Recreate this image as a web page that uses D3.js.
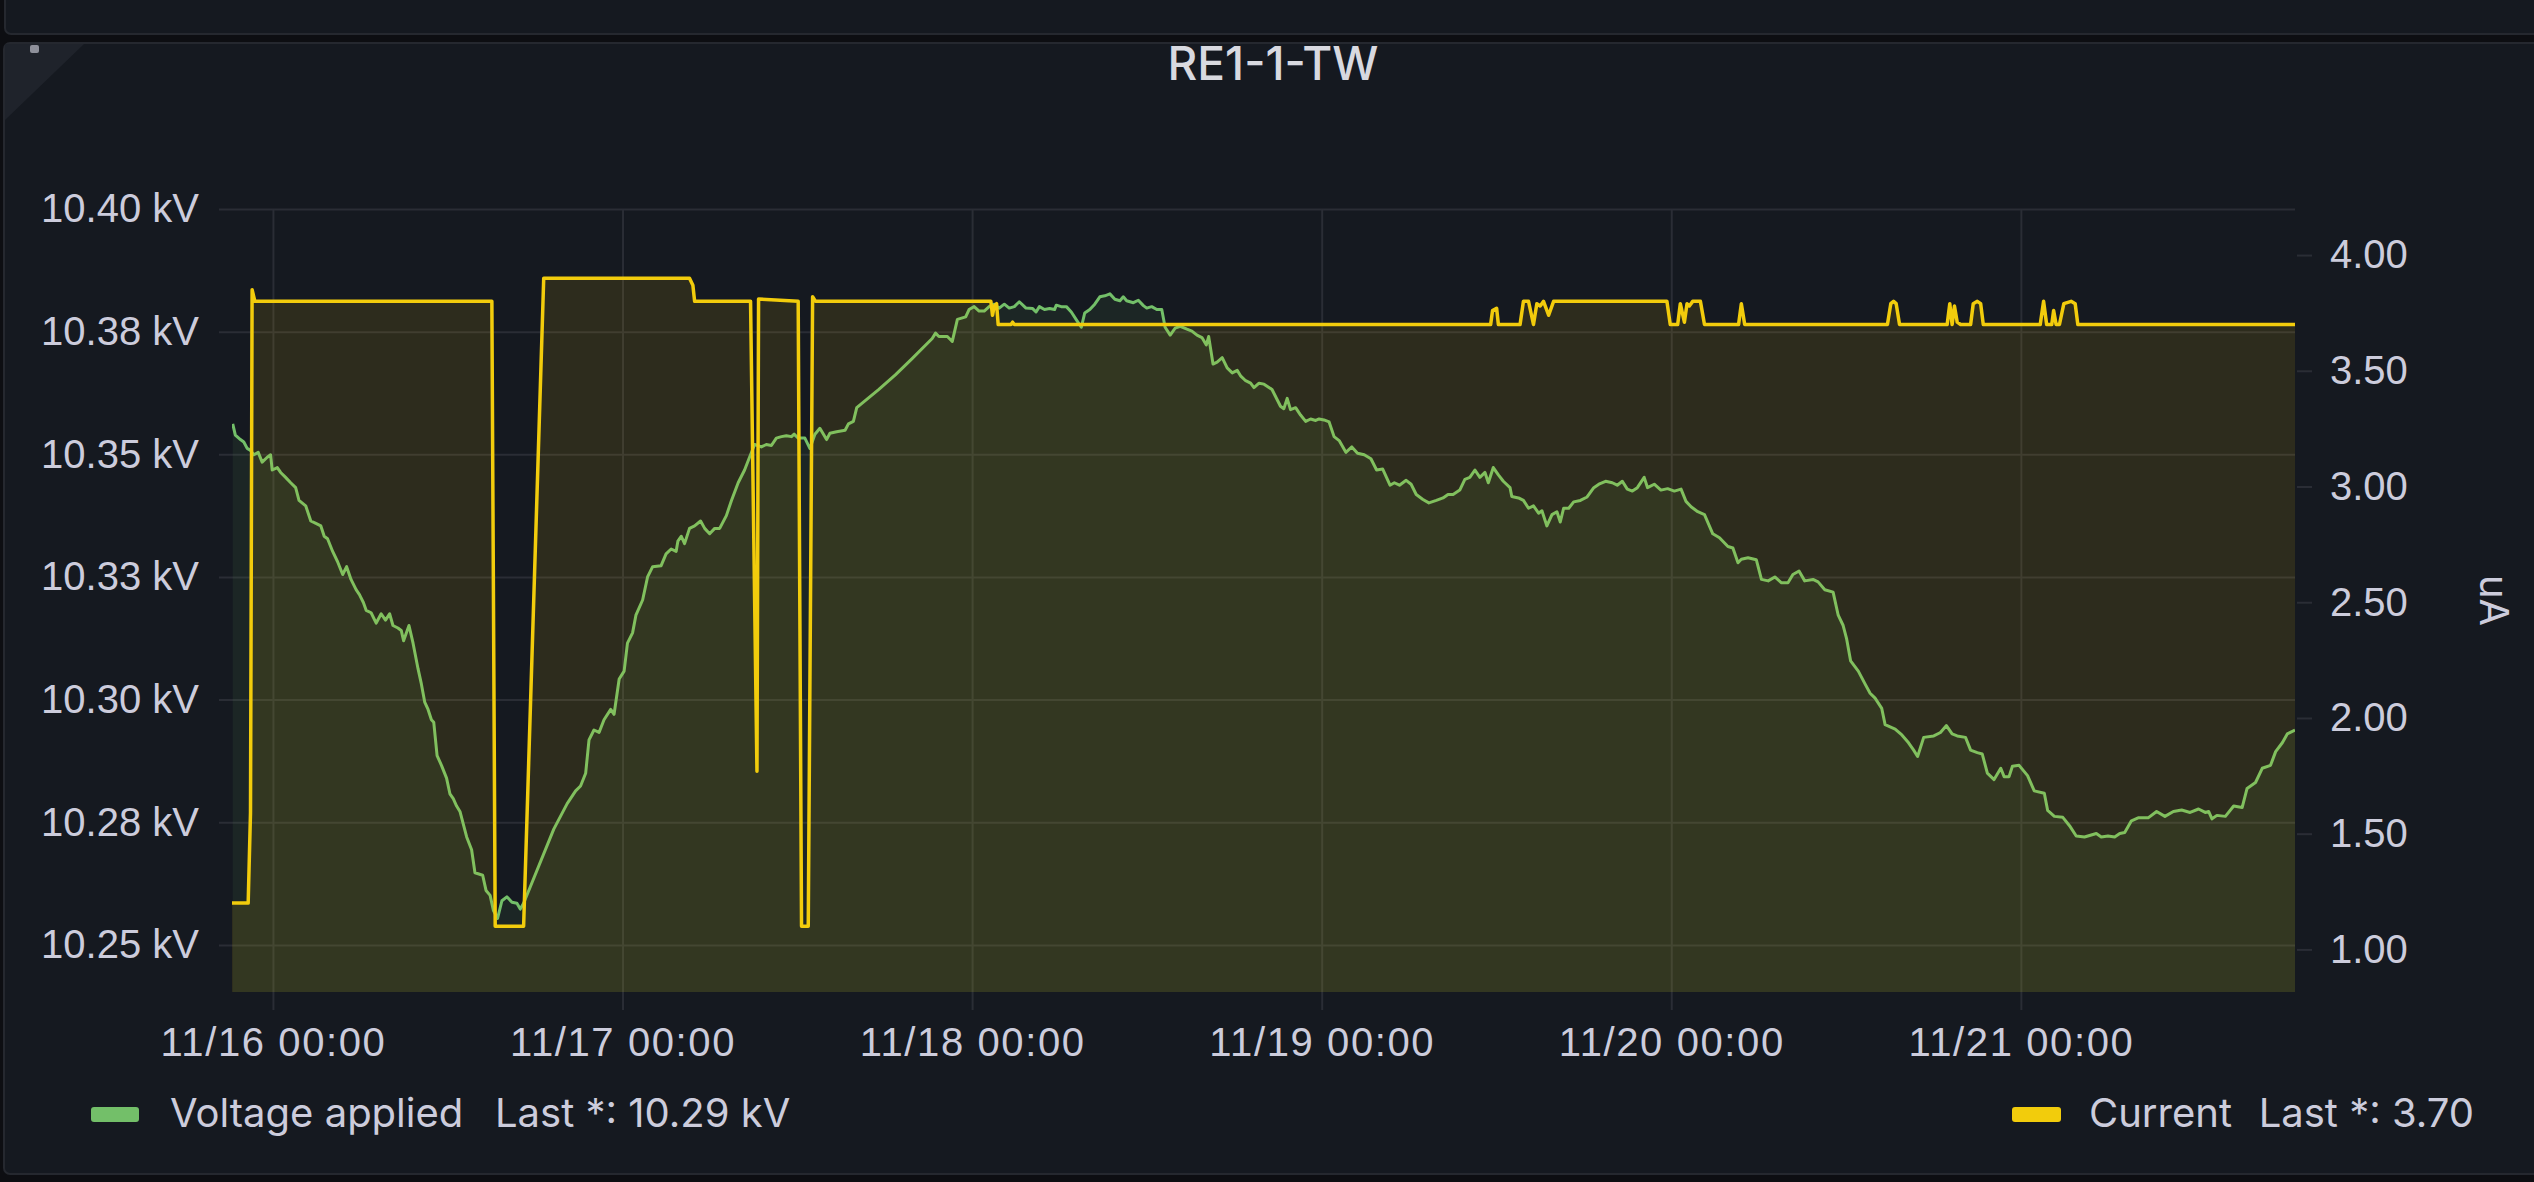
<!DOCTYPE html>
<html>
<head>
<meta charset="utf-8">
<script src="https://cdn.jsdelivr.net/npm/d3@7"></script>
<style>
  body { margin: 0; background: #0d0e12; }
  svg { display: block; font-family: Inter, "Noto Sans", sans-serif; }
  .axis text { fill: #ccccdc; font-size: 40px; }
  .axis .domain { display: none; }
  .axis line { stroke: #2a2d35; stroke-width: 2; }
  .x-axis text { letter-spacing: 1.6px; }
  .legend text { fill: #ccccdc; font-size: 40px; }
</style>
</head>
<body>
<script>
// hours from 11/16 00:00
const voltHours = [
  -2.76, -2.58, -2.23, -2.00, -1.77, -1.54, -1.31, -1.01, -0.74, -0.39, -0.16, -0.05, 0.30, 0.53, 0.87,
  1.22, 1.56, 1.79, 2.25, 2.60, 2.95, 3.29, 3.52, 3.75, 4.10, 4.44, 4.79, 5.06, 5.36, 5.71, 5.94, 6.21,
  6.40, 6.74, 7.09, 7.43, 7.73, 8.01, 8.24, 8.58, 8.81, 8.97, 9.34, 9.62, 9.96, 10.19, 10.42, 10.65,
  10.88, 11.04, 11.27, 11.57, 11.92, 12.15, 12.38, 12.61, 12.84, 13.07, 13.30, 13.64, 13.87, 14.40,
  14.63, 14.91, 15.14, 15.42, 15.72, 16.06, 16.41, 16.75, 16.98, 17.21, 19.28, 19.74, 20.20, 20.78,
  21.12, 21.47, 21.70, 22.04, 22.39, 22.73, 23.19, 23.42, 23.77, 24.11, 24.34, 24.69, 24.92, 25.38,
  25.72, 26.07, 26.65, 26.99, 27.34, 27.68, 27.80, 28.03, 28.26, 28.60, 28.95, 29.36, 29.64, 29.98,
  30.33, 30.67, 31.13, 31.48, 31.94,
  32.38, 32.72, 33.07, 33.53, 33.87, 34.22, 34.56, 34.91, 35.25, 35.60, 35.78, 36.06, 36.52, 36.86,
  37.21, 37.55, 38.01, 38.24, 38.70, 39.28, 39.51, 39.85, 40.08, 41.58, 42.73, 43.88, 45.26, 45.49,
  45.72, 46.30, 46.64, 46.99, 47.56, 47.79, 48.14, 48.48, 48.83, 49.17, 49.52, 49.86, 50.21, 50.55,
  50.90, 51.24, 51.70, 52.16, 52.39, 52.62, 52.97, 53.32, 53.66, 53.78, 54.12, 54.47, 54.81, 55.16,
  55.50, 55.73, 56.08, 56.42, 56.77, 57.11, 57.46, 57.80, 58.15, 58.38, 58.61, 59.07, 59.41, 59.76,
  59.99, 60.33, 60.68, 61.02, 61.25, 61.60, 61.94, 62.29, 62.75, 63.09, 63.44, 63.78, 64.08, 64.24,
  64.54, 64.82, 65.17, 65.51, 65.86, 66.20, 66.43, 66.78, 67.12, 67.35, 67.70, 68.04,
  68.59, 69.17, 69.40, 69.63, 69.86, 70.21, 70.55, 70.90, 71.24, 71.59, 71.82, 72.16, 72.51, 72.85,
  73.20, 73.66, 74.07, 74.46, 74.92, 75.38, 75.77, 76.19, 76.69, 76.99, 77.34, 77.80, 78.14, 78.49,
  78.95, 79.36, 79.87, 80.33, 80.67, 81.02, 81.48, 81.83, 82.17, 82.52, 82.86, 83.21, 83.44, 83.78,
  84.13, 84.47, 84.93, 85.05, 85.51, 85.85, 86.20, 86.54, 86.89, 87.12, 87.46, 87.81, 88.15, 88.38,
  88.61, 88.96, 89.30, 89.76, 90.22, 90.68, 91.03, 91.49, 91.95, 92.29, 92.64, 92.98, 93.33, 93.67,
  94.14, 94.37, 94.83, 95.29, 95.75, 96.21, 96.67, 97.01, 97.36, 97.82, 98.28, 98.85, 99.31, 99.89,
  100.23, 100.58, 100.81, 101.27, 101.84, 102.19, 102.65, 103.11, 103.57,
  104.01, 104.35, 104.77, 105.16, 105.73, 106.08, 106.54, 107.11, 107.46, 107.80, 108.03, 108.31,
  108.84, 109.30, 109.65, 109.99, 110.45, 110.68, 111.37, 111.83, 112.29, 112.64, 112.91, 113.33,
  114.02, 114.48, 114.89, 115.28, 115.63, 116.20, 116.55, 117.01, 117.35, 117.70, 118.16, 118.62,
  118.85, 119.19, 119.42, 119.88, 120.46, 120.92, 121.61, 121.84, 122.30, 122.88, 123.34, 123.80,
  124.37, 125.18, 125.52, 125.98, 126.44, 126.79, 127.13, 127.59, 128.05, 128.74, 129.32, 129.89,
  130.47, 131.04, 131.62, 132.20, 132.66, 132.89, 133.12, 133.46, 134.04, 134.61, 135.19, 135.53,
  136.11, 136.57, 137.14, 137.49, 137.95, 138.29, 138.82
];
const voltKV = [
  10.3562, 10.3539, 10.3530, 10.3525, 10.3512, 10.3508, 10.3499, 10.3504, 10.3484, 10.3494, 10.3499,
  10.3468, 10.3473, 10.3463, 10.3453, 10.3442, 10.3432, 10.3406, 10.3395, 10.3364, 10.3359, 10.3354,
  10.3333, 10.3328, 10.3302, 10.3281, 10.3255, 10.3271, 10.3245, 10.3224, 10.3214, 10.3198, 10.3182,
  10.3177, 10.3156, 10.3175, 10.3162, 10.3175, 10.3151, 10.3146, 10.3141, 10.3120, 10.3151, 10.3115,
  10.3063, 10.3032, 10.2995, 10.2980, 10.2959, 10.2954, 10.2886, 10.2866, 10.2840, 10.2808, 10.2798,
  10.2783, 10.2772, 10.2746, 10.2720, 10.2694, 10.2647, 10.2642, 10.2611, 10.2601, 10.2570, 10.2554,
  10.2590, 10.2598, 10.2587, 10.2585, 10.2573, 10.2585, 10.2736, 10.2762, 10.2788, 10.2814, 10.2824,
  10.2850, 10.2918, 10.2938, 10.2933, 10.2959, 10.2980, 10.2970, 10.3042, 10.3058, 10.3115, 10.3136,
  10.3172, 10.3203, 10.3250, 10.3271, 10.3273, 10.3297, 10.3307, 10.3302, 10.3323, 10.3333, 10.3318,
  10.3349, 10.3354, 10.3364, 10.3349, 10.3338, 10.3349, 10.3349, 10.3375, 10.3406, 10.3442,
  10.3468, 10.3494, 10.3520, 10.3515, 10.3520, 10.3518, 10.3533, 10.3536, 10.3538, 10.3536, 10.3541,
  10.3533, 10.3533, 10.3512, 10.3541, 10.3553, 10.3530, 10.3543, 10.3546, 10.3549, 10.3562, 10.3567,
  10.3595, 10.3632, 10.3662, 10.3695, 10.3736, 10.3747, 10.3740, 10.3740, 10.3730, 10.3775, 10.3780,
  10.3795, 10.3801, 10.3792, 10.3792, 10.3801, 10.3806, 10.3798, 10.3806, 10.3798, 10.3801, 10.3811,
  10.3798, 10.3797, 10.3790, 10.3801, 10.3795, 10.3797, 10.3795, 10.3804, 10.3801, 10.3801, 10.3790,
  10.3774, 10.3759, 10.3788, 10.3795, 10.3806, 10.3821, 10.3823, 10.3827, 10.3816, 10.3813, 10.3821,
  10.3813, 10.3809, 10.3814, 10.3803, 10.3798, 10.3801, 10.3795, 10.3795, 10.3759, 10.3743, 10.3757,
  10.3761, 10.3755, 10.3751, 10.3743, 10.3738, 10.3723, 10.3740, 10.3684, 10.3688, 10.3697, 10.3676,
  10.3666, 10.3671, 10.3660, 10.3650, 10.3645, 10.3636, 10.3645, 10.3643,
  10.3632, 10.3598, 10.3593, 10.3614, 10.3591, 10.3595, 10.3580, 10.3567, 10.3572, 10.3569, 10.3572,
  10.3570, 10.3566, 10.3536, 10.3528, 10.3504, 10.3515, 10.3502, 10.3499, 10.3491, 10.3468, 10.3470,
  10.3437, 10.3442, 10.3437, 10.3447, 10.3439, 10.3418, 10.3408, 10.3401, 10.3406, 10.3411, 10.3418,
  10.3418, 10.3427, 10.3449, 10.3453, 10.3468, 10.3453, 10.3463, 10.3442, 10.3473, 10.3458, 10.3445,
  10.3432, 10.3414, 10.3411, 10.3406, 10.3390, 10.3395, 10.3380, 10.3385, 10.3354, 10.3377, 10.3383,
  10.3362, 10.3390, 10.3390, 10.3403, 10.3406, 10.3413, 10.3432, 10.3439, 10.3445, 10.3442, 10.3437,
  10.3445, 10.3429, 10.3425, 10.3432, 10.3453, 10.3432, 10.3439, 10.3427, 10.3430, 10.3425, 10.3429,
  10.3404, 10.3393, 10.3383, 10.3377, 10.3338, 10.3330, 10.3312, 10.3309, 10.3279, 10.3286, 10.3289,
  10.3285, 10.3245, 10.3242, 10.3250, 10.3238,
  10.3238, 10.3255, 10.3262, 10.3242, 10.3245, 10.3240, 10.3224, 10.3219, 10.3172, 10.3151, 10.3125,
  10.3079, 10.3058, 10.3032, 10.3013, 10.3003, 10.2982, 10.2949, 10.2940, 10.2928, 10.2912, 10.2897,
  10.2884, 10.2923, 10.2926, 10.2933, 10.2947, 10.2930, 10.2926, 10.2923, 10.2897, 10.2892, 10.2889,
  10.2850, 10.2837, 10.2860, 10.2843, 10.2843, 10.2864, 10.2866, 10.2845, 10.2814, 10.2809, 10.2774,
  10.2762, 10.2760, 10.2743, 10.2722, 10.2720, 10.2727, 10.2720, 10.2722, 10.2720, 10.2727, 10.2729,
  10.2753, 10.2759, 10.2759, 10.2772, 10.2762, 10.2772, 10.2775, 10.2770, 10.2777, 10.2770, 10.2772,
  10.2757, 10.2764, 10.2762, 10.2783, 10.2780, 10.2819, 10.2831, 10.2860, 10.2866, 10.2894, 10.2912,
  10.2930, 10.2938
];

const currHours = [
  -2.81, -1.70, -1.54, -1.43, -1.24, 15.03, 15.26, 17.21, 18.59, 28.60, 28.83, 28.95, 32.79, 33.23,
  33.34, 36.06, 36.29, 36.75, 37.05, 37.25, 49.29, 49.40, 49.52, 49.68, 49.79, 50.67, 50.78, 50.90,
  83.60, 83.73, 84.01, 84.13, 85.62, 85.85, 86.20, 86.54, 86.77, 87.00, 87.23, 87.58, 87.92, 95.70,
  95.93, 96.44, 96.62, 96.90, 97.08, 97.24, 97.47, 98.00, 98.28, 100.62, 100.81, 101.04, 110.84,
  111.07, 111.26, 111.44, 111.67, 114.94, 115.12, 115.28, 115.44, 115.63, 115.86, 116.55, 116.73,
  117.01, 117.24, 117.42, 121.33, 121.56, 121.77, 122.12, 122.25, 122.42, 122.65, 122.95, 123.45,
  123.73, 123.91, 138.82
];
const currUA = [
  1.20, 1.20, 1.59, 3.85, 3.80, 3.80, 1.10, 1.10, 3.90, 3.90, 3.87, 3.80, 3.80, 1.77,
  3.81, 3.80, 1.10, 1.10, 3.82, 3.80, 3.80, 3.74, 3.78, 3.79, 3.70, 3.70, 3.71, 3.70,
  3.70, 3.76, 3.77, 3.70, 3.70, 3.80, 3.80, 3.70, 3.79, 3.78, 3.80, 3.74, 3.80, 3.80,
  3.70, 3.70, 3.79, 3.71, 3.79, 3.78, 3.80, 3.80, 3.70, 3.70, 3.79, 3.70, 3.70,
  3.79, 3.80, 3.79, 3.70, 3.70, 3.79, 3.70, 3.78, 3.71, 3.70, 3.70, 3.79,
  3.80, 3.79, 3.70, 3.70, 3.80, 3.70, 3.70, 3.76, 3.70, 3.70, 3.79, 3.80,
  3.79, 3.70, 3.70
];

// axis ticks
const dayTicks = ["2023-11-16", "2023-11-17", "2023-11-18", "2023-11-19", "2023-11-20", "2023-11-21"];
const leftTicks = [10.25, 10.275, 10.30, 10.325, 10.35, 10.375, 10.40];
const leftLabels = ["10.25 kV", "10.28 kV", "10.30 kV", "10.33 kV", "10.35 kV", "10.38 kV", "10.40 kV"];
const rightTicks = [1.0, 1.5, 2.0, 2.5, 3.0, 3.5, 4.0];
const rightLabels = ["1.00", "1.50", "2.00", "2.50", "3.00", "3.50", "4.00"];

const width = 2534, height = 1182;
const plot = { left: 232, right: 2295, top: 209, bottom: 992 };

const t0 = new Date(2023, 10, 16, 0, 0);
const toDate = h => new Date(t0.getTime() + h * 3600e3);
const parseDay = d3.timeParse("%Y-%m-%d");

const volt = voltHours.map((h, i) => ({ t: toDate(h), v: voltKV[i] }));
const curr = currHours.map((h, i) => ({ t: toDate(h), v: currUA[i] }));

const svg = d3.select("body").append("svg")
    .attr("width", width)
    .attr("height", height);

// panel frames
svg.append("rect")
    .attr("x", 5).attr("y", -20).attr("width", 2600).attr("height", 54).attr("rx", 6)
    .attr("fill", "#151920").attr("stroke", "#25282f").attr("stroke-width", 2);
svg.append("rect")
    .attr("x", 4).attr("y", 43).attr("width", 2600).attr("height", 1131).attr("rx", 6)
    .attr("fill", "#151920").attr("stroke", "#25282f").attr("stroke-width", 2);
svg.append("path")
    .attr("d", "M5,44 L84,44 L5,120 Z")
    .attr("fill", "#1f232b");
svg.append("rect")
    .attr("x", 30).attr("y", 45).attr("width", 9).attr("height", 8).attr("rx", 2)
    .attr("fill", "#8e909a");

// title
svg.append("text")
    .attr("x", 1273)
    .attr("y", 80)
    .attr("text-anchor", "middle")
    .attr("fill", "#d8d9e0")
    .style("font-size", "46px")
    .style("font-weight", 500)
    .text("RE1-1-TW");

// scales
const x = d3.scaleTime()
    .domain([toDate(-2.81), toDate(138.82)])
    .range([plot.left, plot.right]);
const yL = d3.scaleLinear()
    .domain([10.2404, 10.40])
    .range([plot.bottom, plot.top]);
const yR = d3.scaleLinear()
    .domain([0.816, 4.199])
    .range([plot.bottom, plot.top]);

// left axis + horizontal grid
svg.append("g")
    .attr("class", "axis")
    .attr("transform", "translate(219,0)")
    .call(d3.axisLeft(yL)
        .tickValues(leftTicks)
        .tickSize(-(plot.right - 219))
        .tickPadding(20)
        .tickFormat((d, i) => leftLabels[i]));

// x axis + vertical grid
svg.append("g")
    .attr("class", "axis x-axis")
    .attr("transform", "translate(0,1010)")
    .call(d3.axisBottom(x)
        .tickValues(dayTicks.map(parseDay))
        .tickSize(-(1010 - plot.top))
        .tickPadding(18)
        .tickFormat(d3.timeFormat("%m/%d %H:%M")));

// right axis
svg.append("g")
    .attr("class", "axis")
    .attr("transform", "translate(" + (plot.right + 2) + ",0)")
    .call(d3.axisRight(yR)
        .tickValues(rightTicks)
        .tickSize(15)
        .tickPadding(18)
        .tickFormat((d, i) => rightLabels[i]));

svg.append("text")
    .attr("transform", "translate(2494," + (plot.top + plot.bottom) / 2 + ") rotate(90)")
    .attr("text-anchor", "middle")
    .attr("dy", "0.35em")
    .attr("fill", "#ccccdc")
    .style("font-size", "40px")
    .text("uA");

// series
svg.append("clipPath").attr("id", "clip")
    .append("rect")
    .attr("x", plot.left).attr("y", plot.top - 4)
    .attr("width", plot.right - plot.left).attr("height", plot.bottom - plot.top + 4);

const g = svg.append("g").attr("clip-path", "url(#clip)");

function drawSeries(data, y, color, lw, op) {
    g.append("path")
        .datum(data)
        .attr("fill", color)
        .attr("fill-opacity", op)
        .attr("d", d3.area().x(d => x(d.t)).y0(plot.bottom).y1(d => y(d.v)));
    g.append("path")
        .datum(data)
        .attr("fill", "none")
        .attr("stroke", color)
        .attr("stroke-width", lw)
        .attr("stroke-linejoin", "round")
        .attr("d", d3.line().x(d => x(d.t)).y(d => y(d.v)));
}

drawSeries(volt, yL, "#73bf69", 3, 0.08);
drawSeries(curr, yR, "#f2cc0c", 3.5, 0.11);

// legend
const fmt = d3.format(".2f");
const legend = svg.append("g").attr("class", "legend");

legend.append("rect")
    .attr("x", 91).attr("y", 1107).attr("width", 48).attr("height", 15).attr("rx", 3)
    .attr("fill", "#73bf69");
legend.append("text").attr("x", 170).attr("y", 1127).text("Voltage applied");
legend.append("text").attr("x", 495).attr("y", 1127)
    .text("Last *: " + fmt(voltKV[voltKV.length - 1]) + " kV");

legend.append("rect")
    .attr("x", 2012).attr("y", 1107).attr("width", 49).attr("height", 15).attr("rx", 3)
    .attr("fill", "#f2cc0c");
legend.append("text").attr("x", 2089).attr("y", 1127).text("Current");
legend.append("text").attr("x", 2474).attr("y", 1127).attr("text-anchor", "end")
    .text("Last *: " + fmt(currUA[currUA.length - 1]));
</script>
</body>
</html>
